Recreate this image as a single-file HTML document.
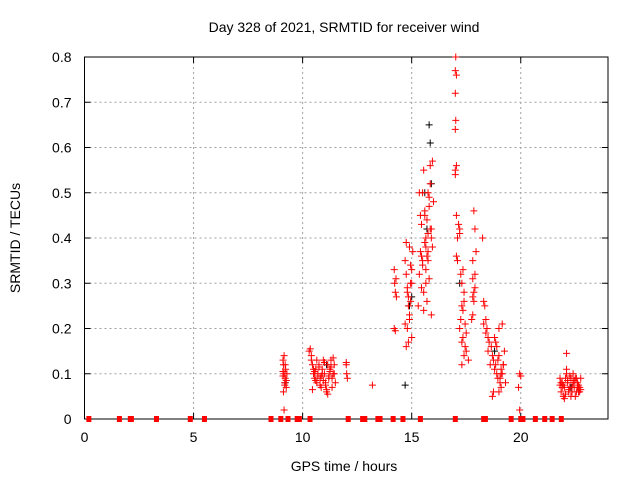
<!DOCTYPE html>
<html><head><meta charset="utf-8"><style>
body{margin:0;background:#fff;}
svg text{font-family:"Liberation Sans",sans-serif;font-size:14px;fill:#000;}
</style></head><body>
<svg id="chart" width="640" height="480">
<rect x="0" y="0" width="640" height="480" fill="#fff"/>
<g id="grid"></g><g id="axes"></g><g id="marks"></g>
<text x="344" y="32" text-anchor="middle">Day 328 of 2021, SRMTID for receiver wind</text>
<text x="344" y="471" text-anchor="middle">GPS time / hours</text>
<text x="20" y="238" text-anchor="middle" transform="rotate(-90 20 238)">SRMTID / TECUs</text>
</svg>
<script>
const xTicks=[0,5,10,15,20];
const yTicks=[0,0.1,0.2,0.3,0.4,0.5,0.6,0.7,0.8];
const yTickLabels=["0","0.1","0.2","0.3","0.4","0.5","0.6","0.7","0.8"];
const zeroHours=[0.2,1.6,2.1,2.15,3.3,4.85,5.5,8.55,9.0,9.33,9.75,9.85,10.34,12.09,12.75,12.85,13.45,13.55,14.15,14.6,15.4,17.0,18.3,18.38,19.56,20.0,20.1,20.67,21.1,21.44,21.86];
const redHours=[9.1,9.12,9.15,9.2,9.18,9.22,9.25,9.1,9.15,9.2,9.28,9.12,9.18,9.25,9.15,9.1,
10.3,10.35,10.4,10.45,10.5,10.55,10.6,10.65,10.7,10.75,10.8,10.85,10.9,10.95,11.0,11.05,11.1,11.15,11.2,11.25,11.3,11.35,11.4,11.45,11.5,10.4,10.5,10.6,10.7,10.8,10.9,11.0,11.1,11.2,11.3,11.4,10.55,10.75,10.95,11.15,11.35,10.45,10.65,10.85,11.05,11.25,11.45,
12.0,12.02,12.05,12.0,13.2,
14.2,14.22,14.25,14.3,14.2,14.25,14.28,14.7,14.75,14.8,14.85,14.9,14.95,15.0,15.05,14.75,14.8,14.85,14.9,14.95,15.0,14.7,14.8,14.9,15.0,14.75,14.85,14.95,
15.3,15.35,15.4,15.45,15.5,15.55,15.6,15.65,15.7,15.75,15.8,15.85,15.9,15.95,16.0,15.35,15.45,15.55,15.65,15.75,15.85,15.95,15.4,15.5,15.6,15.7,15.8,15.9,15.45,15.55,15.65,15.75,15.85,15.6,15.7,15.8,15.5,15.9,15.65,15.75,
17.0,17.02,17.0,17.05,17.0,17.02,17.0,17.05,17.0,17.05,17.1,17.05,17.1,17.15,17.2,17.2,17.25,17.3,17.35,17.4,17.3,17.2,17.25,17.35,17.45,17.5,17.3,17.4,17.5,17.45,17.6,17.3,17.35,17.4,
17.8,17.85,17.9,17.95,17.8,17.85,17.9,17.75,17.8,17.85,17.9,17.8,
18.25,18.3,18.35,18.4,18.45,18.5,18.55,18.3,18.4,18.5,18.6,18.65,18.7,18.75,18.8,18.85,18.9,18.95,19.0,19.05,19.1,19.15,19.2,18.7,18.8,18.9,19.0,19.1,18.75,18.85,18.95,19.05,19.15,19.25,19.3,19.2,19.1,19.0,
19.9,19.95,20.0,19.95,
21.8,21.85,21.9,21.95,22.0,22.05,22.1,22.15,22.2,22.25,22.3,22.35,22.4,22.45,22.5,22.55,22.6,22.65,22.7,22.75,21.85,21.95,22.05,22.15,22.25,22.35,22.45,22.55,22.65,22.75,21.9,22.0,22.1,22.2,22.3,22.4,22.5,22.6,22.7,21.8,22.1,22.4];
const redValues=[0.13,0.12,0.1,0.09,0.08,0.11,0.07,0.095,0.14,0.12,0.1,0.06,0.075,0.085,0.02,0.105,
0.15,0.155,0.13,0.12,0.1,0.09,0.11,0.08,0.1,0.12,0.09,0.07,0.11,0.13,0.1,0.08,0.06,0.12,0.09,0.11,0.13,0.07,0.1,0.12,0.08,0.14,0.11,0.085,0.095,0.075,0.1,0.125,0.065,0.095,0.115,0.135,0.105,0.115,0.085,0.055,0.09,0.065,0.13,0.095,0.075,0.105,0.1,
0.12,0.1,0.09,0.125,0.075,
0.33,0.3,0.28,0.27,0.2,0.195,0.31,0.35,0.32,0.28,0.25,0.22,0.26,0.3,0.37,0.39,0.2,0.17,0.23,0.3,0.33,0.21,0.29,0.38,0.18,0.16,0.27,0.34,0.25,
0.32,0.37,0.43,0.5,0.55,0.45,0.4,0.36,0.35,0.47,0.56,0.42,0.38,0.48,0.5,0.29,0.28,0.33,0.41,0.52,0.57,0.45,0.34,0.39,0.44,0.49,0.4,0.36,0.24,0.3,0.37,0.42,0.46,0.26,0.31,0.35,0.23,0.38,0.5,0.54,
0.8,0.77,0.76,0.72,0.66,0.64,0.56,0.55,0.36,0.35,0.45,0.4,0.43,0.42,0.41,0.32,0.3,0.33,0.28,0.25,0.2,0.22,0.18,0.16,0.15,0.17,0.14,0.19,0.21,0.13,0.12,0.24,0.26,0.27,
0.46,0.42,0.37,0.31,0.26,0.29,0.22,0.23,0.28,0.32,0.35,0.4,
0.26,0.25,0.22,0.2,0.18,0.17,0.21,0.19,0.15,0.12,0.16,0.14,0.13,0.11,0.12,0.1,0.09,0.14,0.08,0.07,0.1,0.12,0.05,0.18,0.16,0.2,0.11,0.06,0.17,0.13,0.09,0.21,0.15,0.08,0.12,0.1,0.06,0.07,
0.1,0.095,0.02,0.09,
0.06,0.08,0.05,0.07,0.09,0.1,0.08,0.06,0.07,0.09,0.06,0.08,0.07,0.05,0.09,0.08,0.06,0.07,0.065,0.08,0.075,0.055,0.085,0.095,0.07,0.085,0.06,0.075,0.09,0.07,0.045,0.11,0.065,0.05,0.08,0.09,0.07,0.06,0.075,0.145,0.1,0.085];
const blackHours=[14.7,15.8,15.85,15.9,15.6,15.7,14.9,15.0,17.2,18.8,22.3,9.2,11.1];
const blackValues=[0.075,0.65,0.61,0.52,0.5,0.42,0.25,0.27,0.3,0.15,0.07,0.08,0.12];

const X0=84.5,X1=608,Y0=419,Y1=57;
const xs=h=>X0+h/24*(X1-X0);
const ys=v=>Y0-v/0.8*(Y0-Y1);
const NS="http://www.w3.org/2000/svg";
function mk(tag,attrs,parent){const e=document.createElementNS(NS,tag);for(const k in attrs)e.setAttribute(k,attrs[k]);parent.appendChild(e);return e;}
const grid=document.getElementById('grid'),axes=document.getElementById('axes'),marks=document.getElementById('marks');
xTicks.forEach(t=>{
 const x=xs(t);
 if(t>0){const g=mk('line',{x1:x,x2:x,y1:Y0,y2:Y1,stroke:'#a0a0a0','stroke-dasharray':'2,3'},grid);
 
 }
 mk('line',{x1:x,x2:x,y1:Y0,y2:Y0-6,stroke:'#000'},axes);
 mk('line',{x1:x,x2:x,y1:Y1,y2:Y1+6,stroke:'#000'},axes);
 const tx=mk('text',{x:x,y:Y0+23,'text-anchor':'middle'},axes);tx.textContent=t;
 
 
});
yTicks.forEach((t,i)=>{
 const y=ys(t);
 if(t>0&&t<0.8){const g=mk('line',{x1:X0,x2:X1,y1:y,y2:y,stroke:'#a0a0a0','stroke-dasharray':'2,3'},grid);
 
 }
 mk('line',{x1:X0,x2:X0+6,y1:y,y2:y,stroke:'#000'},axes);
 mk('line',{x1:X1,x2:X1-6,y1:y,y2:y,stroke:'#000'},axes);
 const tx=mk('text',{x:X0-13,y:y+5,'text-anchor':'end'},axes);tx.textContent=yTickLabels[i];
 
 
});
const fr=mk('rect',{x:X0,y:Y1,width:X1-X0,height:Y0-Y1,fill:'none',stroke:'#000'},axes);


function plus(h,v,col,name){
 const x=xs(h),y=ys(v);
 const p=mk('path',{d:`M${x-3.5},${y}h7M${x},${y-3.5}v7`,stroke:col,'stroke-width':1,fill:'none'},marks);
 
 
}
blackHours.forEach((h,i)=>plus(h,blackValues[i],'#000','black-point'));
redHours.forEach((h,i)=>plus(h,redValues[i],'#f00','red-point'));
zeroHours.forEach(h=>{
 const r=mk('rect',{x:xs(h)-2.5,y:Y0-3,width:5,height:6,fill:'#f00'},marks);
 
 
});
</script>
</body></html>
